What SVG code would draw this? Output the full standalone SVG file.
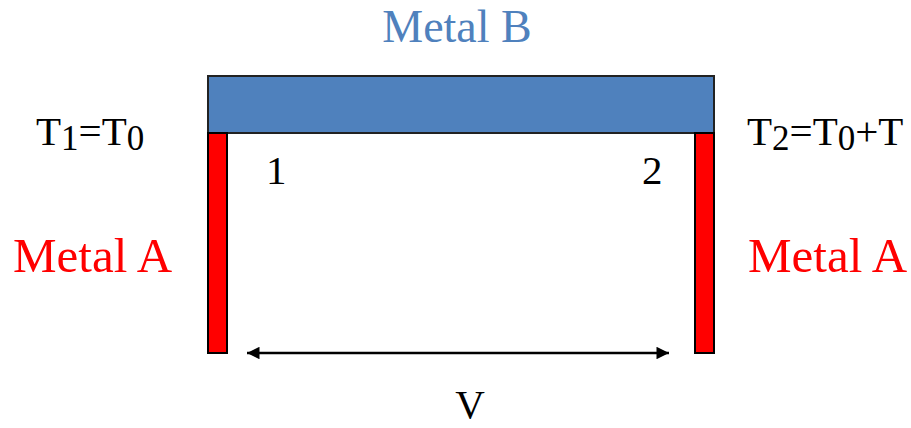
<svg xmlns="http://www.w3.org/2000/svg" width="911" height="428" viewBox="0 0 911 428" font-family="'Liberation Serif', 'Times New Roman', 'DejaVu Serif', serif">
<style>
text{font-family:'Liberation Serif','Times New Roman','DejaVu Serif',serif;fill:#000}
.metal{fill:#FF0000;font-size:49px}
.lbl{font-size:41px}
.sub{font-size:35px}
.bar{fill:#FF0000;stroke:#000;stroke-width:2}
</style>
<defs>
<marker id="ah" viewBox="0 0 10 10" refX="10" refY="5" markerWidth="7" markerHeight="5" markerUnits="strokeWidth" orient="auto-start-reverse">
<path d="M0,0 L10,5 L0,10 z" fill="#000"/>
</marker>
</defs>
<g id="metalB">
<rect x="208" y="76" width="506" height="57" fill="#4F81BD" stroke="#222" stroke-width="2"/>
<text x="457" y="42" text-anchor="middle" font-size="46" fill="#4F81BD" style="fill:#4F81BD;font-size:46px">Metal B</text>
</g>
<g id="leftA">
<rect class="bar" x="208" y="133" width="19" height="220"/>
<text class="metal" x="13" y="272">Metal A</text>
</g>
<g id="rightA">
<rect class="bar" x="695" y="133" width="19" height="220"/>
<text class="metal" x="748" y="272">Metal A</text>
</g>
<g id="labels">
<text class="lbl" x="36" y="145">T<tspan class="sub" dy="5">1</tspan><tspan dy="-5">=T</tspan><tspan class="sub" dy="5">0</tspan></text>
<text class="lbl" x="747" y="145">T<tspan class="sub" dy="5">2</tspan><tspan dy="-5">=T</tspan><tspan class="sub" dy="5">0</tspan><tspan dy="-5">+T</tspan></text>
<text class="lbl" x="266" y="184">1</text>
<text class="lbl" x="642" y="184">2</text>
<text class="lbl" x="470" y="418" text-anchor="middle">V</text>
</g>
<g id="connectors">
<line x1="247" y1="353" x2="669" y2="353" stroke="#000" stroke-width="2.5" marker-start="url(#ah)" marker-end="url(#ah)"/>
</g>
</svg>
